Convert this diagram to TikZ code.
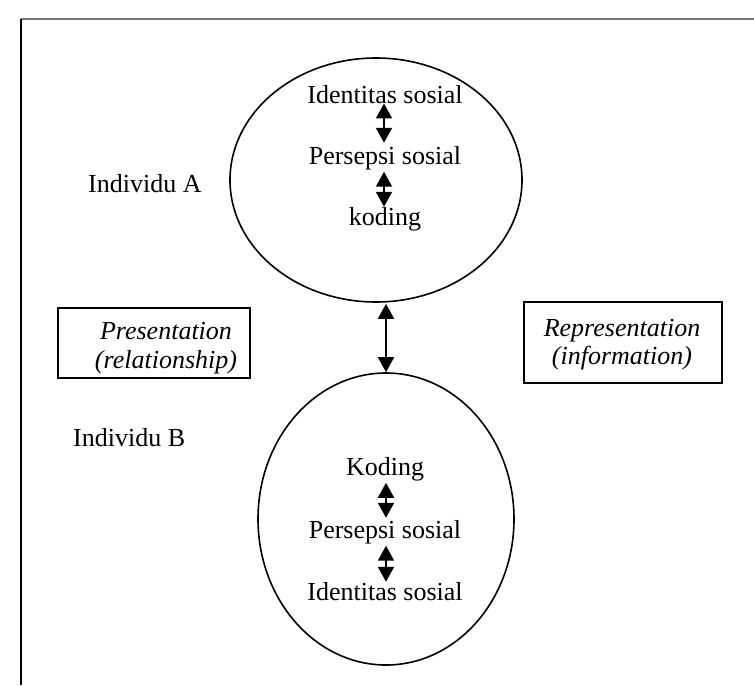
\documentclass[tikz,border=0pt]{standalone}
\usepackage{fontspec}
\setmainfont{Liberation Serif}
\usetikzlibrary{arrows.meta,shapes.geometric}
\begin{document}
\begin{tikzpicture}[x=1pt,y=-1pt,
  txt/.style={inner sep=0pt,font=\fontsize{26}{30}\selectfont},
  oval/.style={draw,ellipse,line width=1.6pt,inner sep=0pt},
  labelbox/.style={draw,line width=1.6pt,inner sep=0pt},
  dbl/.style={line width=2pt,{Triangle[width=16pt,length=15pt]}-{Triangle[width=16pt,length=15pt]}}]
\useasboundingbox (0,0) rectangle (754,685);
% frame
\draw[line width=2pt,black!55] (21,19) -- (754,19);
\draw[line width=2pt] (21,19) -- (21,685);
% ellipses
\node[oval,minimum width=292pt,minimum height=244pt] (elA) at (376,180) {};
\node[oval,minimum width=256pt,minimum height=292pt] (elB) at (386,519) {};
% texts in A
\node[txt,anchor=base] (idA) at (385,103) {Identitas sosial};
\node[txt,anchor=base] (perA) at (385,164) {Persepsi sosial};
\node[txt,anchor=base] (kodA) at (385,225) {koding};
% texts in B
\node[txt,anchor=base] (kodB) at (385,475) {Koding};
\node[txt,anchor=base] (perB) at (385,538) {Persepsi sosial};
\node[txt,anchor=base] (idB) at (385,600) {Identitas sosial};
% side labels
\node[txt,anchor=base west] (indA) at (88,192) {Individu A};
\node[txt,anchor=base west] (indB) at (73,446) {Individu B};
% boxes
\node[labelbox,minimum width=192pt,minimum height=70pt] (boxL) at (154,343) {};
\node[labelbox,minimum width=198pt,minimum height=81pt] (boxR) at (623,342.5) {};
\node[txt,anchor=base] (presA) at (166,339) {\itshape Presentation};
\node[txt,anchor=base] (presB) at (166,368) {\itshape (relationship)};
\node[txt,anchor=base] (repA) at (622,336) {\itshape Representation};
\node[txt,anchor=base] (repB) at (622,364) {\itshape (information)};
% connectors
\draw[dbl] ([xshift=-1pt]idA.south) -- ([xshift=-1pt,yshift=3pt]perA.north);
\draw[dbl] ([xshift=-1pt,yshift=-2pt]perA.south) -- ([xshift=-1pt]kodA.north);
\draw[dbl] ([xshift=1pt,yshift=-2pt]kodB.south) -- ([xshift=1pt,yshift=2pt]perB.north);
\draw[dbl] ([xshift=1pt,yshift=-2pt]perB.south) -- ([xshift=1pt]idB.north);
\draw[dbl] ([yshift=-1pt]elB.north |- elA.south) -- (elB.north);
\end{tikzpicture}
\end{document}
